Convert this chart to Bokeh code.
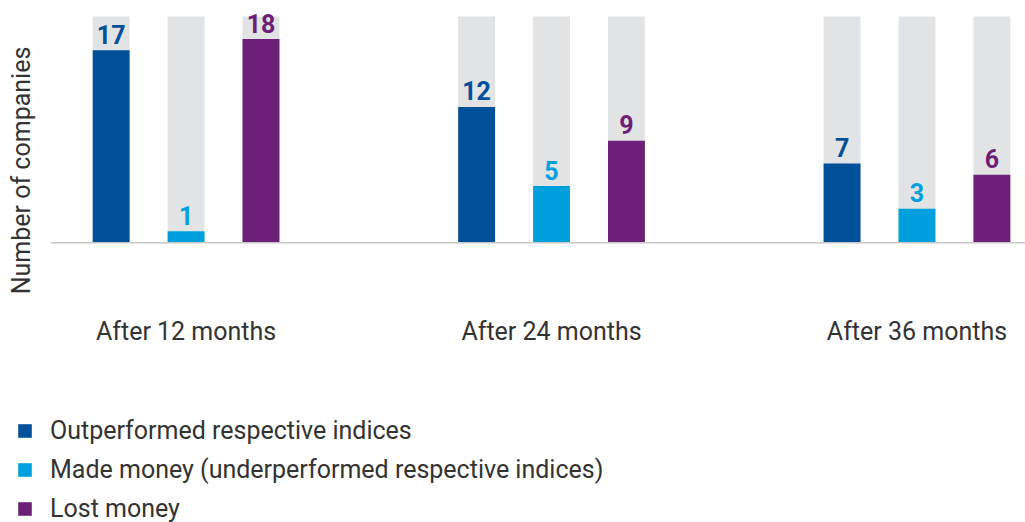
from bokeh.plotting import figure
from bokeh.models import Range1d, FixedTicker, Span, Legend, LegendItem, ColumnDataSource
from bokeh.layouts import column, row
from bokeh.core.properties import value
from bokeh.embed import file_html
from bokeh.resources import INLINE

categories = ["After 12 months", "After 24 months", "After 36 months"]
series = ["Outperformed respective indices",
          "Made money (underperformed respective indices)",
          "Lost money"]
outperformed = [17, 12, 7]
made_money = [1, 5, 3]
lost_money = [18, 9, 6]
scale_max = 20

colors = ["#00509A", "#00A0DE", "#6D2077"]
gray = "#E2E3E5"
text_color = "#333333"
FONT = "Roboto"

offsets = [-0.205, 0.0, 0.205]
bar_w = 0.101
groups = list(range(len(categories)))

p = figure(width=1025, height=358, output_backend="svg", toolbar_location=None,
           x_range=Range1d(-0.371, 2.297), y_range=Range1d(-7.94, 20.7),
           min_border_top=8, min_border_bottom=26, min_border_left=50, min_border_right=0,
           outline_line_color=None, x_axis_location="below", y_axis_location="left")
p.grid.visible = False
p.background_fill_color = "white"

for vals, off, col in zip([outperformed, made_money, lost_money], offsets, colors):
    xs = [g + off for g in groups]
    src = ColumnDataSource(dict(x=xs, top=vals, bg=[scale_max] * len(xs),
                                lab=[str(v) for v in vals]))
    p.vbar(x="x", top="bg", bottom=0, width=bar_w, source=src, fill_color=gray, line_color=None)
    p.vbar(x="x", top="top", bottom=0, width=bar_w, source=src, fill_color=col, line_color=None)
    p.text(x="x", y="top", text="lab", source=src, text_align="center", text_baseline="alphabetic",
           y_offset=-16, text_font=value(FONT), text_font_style="bold", text_font_size="25px",
           text_color=col)

p.add_layout(Span(location=0, dimension="width", line_color="#C8C8C8", line_width=1.5))

xa = p.xaxis[0]
xa.ticker = FixedTicker(ticks=groups)
xa.major_label_overrides = {g: c for g, c in zip(groups, categories)}
xa.major_label_text_font = FONT
xa.major_label_text_font_size = "25px"
xa.major_label_text_color = text_color
xa.major_label_standoff = -22
xa.major_tick_line_color = None
xa.minor_tick_line_color = None
xa.axis_line_color = None

ya = p.yaxis[0]
ya.ticker = FixedTicker(ticks=[])
ya.axis_line_color = None
ya.major_tick_line_color = None
ya.minor_tick_line_color = None
ya.axis_label = "Number of companies"
ya.axis_label_text_font = FONT
ya.axis_label_text_font_size = "25px"
ya.axis_label_text_font_style = "normal"
ya.axis_label_text_color = text_color
ya.axis_label_standoff = 15

p2 = figure(width=1025, height=164, output_backend="svg", toolbar_location=None,
            x_range=Range1d(0, 1), y_range=Range1d(0, 1),
            min_border=0, min_border_left=0, min_border_right=0, min_border_top=0,
            min_border_bottom=0, outline_line_color=None,
            x_axis_location=None, y_axis_location=None)
p2.grid.visible = False
items = []
for name, col in zip(series, colors):
    # swatch-only renderer: zero-height bar, nothing visible in the plot area
    r = p2.vbar(x=[0.5], top=[0], bottom=[0], width=0.0, fill_color=col, line_color=None)
    items.append(LegendItem(label=name, renderers=[r]))
leg = Legend(items=items, location=(16, -1), orientation="vertical", padding=0, margin=0,
             spacing=10, label_height=24, glyph_height=17, glyph_width=17, label_standoff=17,
             label_text_font=FONT, label_text_font_size="25px", label_text_color=text_color,
             border_line_color=None, background_fill_alpha=0)
p2.add_layout(leg)

layout = column(p, row(p2, spacing=0), spacing=0)
open("out.html", "w").write(file_html(layout, INLINE))
